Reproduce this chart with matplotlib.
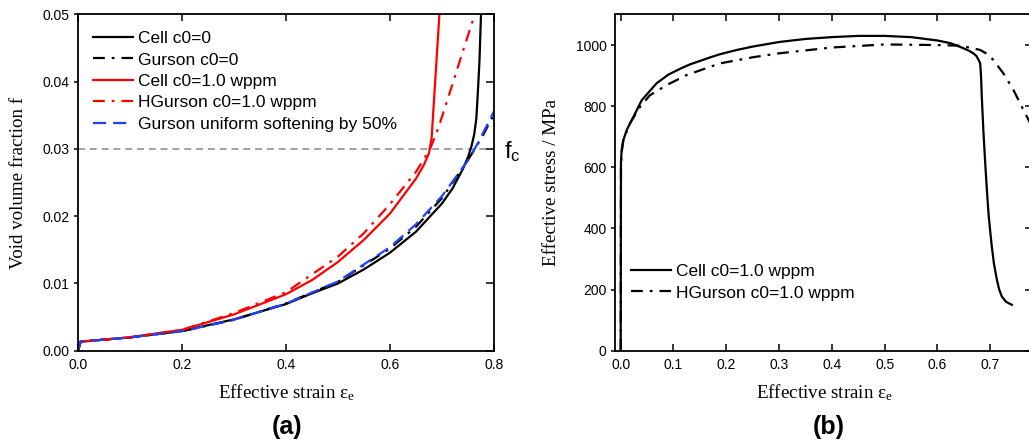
import matplotlib
matplotlib.use("Agg")
import matplotlib.pyplot as plt

plt.rcParams['font.family'] = ['Liberation Sans', 'DejaVu Sans']
plt.rcParams['mathtext.fontset'] = 'custom'
plt.rcParams['mathtext.rm'] = 'Liberation Serif'
plt.rcParams['mathtext.it'] = 'Liberation Serif:italic'
plt.rcParams['mathtext.sf'] = 'Liberation Sans'
plt.rcParams['lines.scale_dashes'] = False

# ---------------- data: panel (a) ----------------
cell0_x = [0, 0.005, 0.1, 0.2, 0.3, 0.4, 0.45, 0.5, 0.55, 0.6, 0.65, 0.7, 0.72, 0.74,
           0.75, 0.757, 0.762, 0.766, 0.769, 0.772, 0.775]
cell0_f = [0, 0.00134, 0.00198, 0.00293, 0.00466, 0.00694, 0.00853, 0.0100, 0.0121, 0.01458,
           0.0177, 0.0219, 0.0241, 0.0270, 0.0288, 0.0305, 0.0322, 0.0345, 0.0385, 0.0430, 0.05]

gurson0_x = [0, 0.005, 0.1, 0.2, 0.3, 0.4, 0.5, 0.6, 0.65, 0.7, 0.74, 0.76, 0.78, 0.8]
gurson0_f = [0, 0.00134, 0.00198, 0.0029, 0.0046, 0.00704, 0.01026, 0.0152, 0.01844, 0.0227,
             0.0272, 0.0296, 0.0322, 0.0352]

cell1_x = [0, 0.005, 0.1, 0.2, 0.3, 0.4, 0.45, 0.5, 0.55, 0.6, 0.65, 0.665, 0.675, 0.68, 0.695]
cell1_f = [0, 0.00134, 0.0020, 0.0031, 0.0054, 0.0084, 0.0105, 0.0132, 0.0165, 0.0204,
           0.0256, 0.0276, 0.0294, 0.0316, 0.05]

hgurson1_x = [0, 0.005, 0.1, 0.2, 0.3, 0.4, 0.5, 0.55, 0.6, 0.65, 0.677, 0.69, 0.70, 0.72, 0.74, 0.763]
hgurson1_f = [0, 0.00134, 0.0020, 0.0031, 0.0056, 0.0087, 0.0140, 0.0175, 0.0218, 0.0266,
              0.0300, 0.0325, 0.0348, 0.0396, 0.0445, 0.05]

soft_x = [0, 0.005, 0.1, 0.2, 0.3, 0.4, 0.5, 0.6, 0.65, 0.7, 0.75, 0.77, 0.8]
soft_f = [0, 0.00134, 0.00198, 0.0029, 0.0046, 0.0070, 0.0103, 0.0154, 0.0188, 0.0230,
          0.0283, 0.0310, 0.0356]

f_c = 0.03

# ---------------- data: panel (b) ----------------
cellb_x = [0, 0.0005, 0.002, 0.005, 0.0114, 0.024, 0.04, 0.068, 0.09, 0.112, 0.13, 0.15,
           0.17, 0.188, 0.22, 0.25, 0.3, 0.35, 0.4, 0.45, 0.5, 0.55, 0.6, 0.625, 0.643,
           0.658, 0.668, 0.674, 0.678, 0.681, 0.6825, 0.684, 0.687, 0.6905, 0.6935,
           0.6967, 0.700, 0.703, 0.707, 0.7127, 0.717, 0.722, 0.730, 0.741]
cellb_s = [0, 620, 660, 689, 722, 765, 820, 875, 903, 922, 936, 948, 960, 970, 984, 995,
           1010, 1020, 1026, 1030, 1030, 1026, 1015, 1006, 994, 983, 973, 964, 951, 940,
           900, 831, 720, 613, 530, 449, 390, 340, 285, 231, 200, 177, 160, 150]

hgb_x = [0, 0.0005, 0.002, 0.005, 0.0176, 0.0366, 0.0555, 0.087, 0.125, 0.188, 0.25, 0.3,
         0.4, 0.5, 0.6, 0.643, 0.66, 0.681, 0.693, 0.706, 0.725, 0.744, 0.766, 0.78]
hgb_s = [0, 600, 650, 690, 744, 798, 836, 869, 902, 940, 960, 973, 992, 1002, 1000, 998, 992,
         984, 972, 951, 907, 853, 777, 730]

xticks_a = [0.0, 0.2, 0.4, 0.6, 0.8]
yticks_a = [0.00, 0.01, 0.02, 0.03, 0.04, 0.05]
xticks_b = [0.0, 0.1, 0.2, 0.3, 0.4, 0.5, 0.6, 0.7]
yticks_b = [0, 200, 400, 600, 800, 1000]

W, H = 1029, 440
fig = plt.figure(figsize=(W / 100, H / 100), dpi=100)

def px_axes(l, r, t, b):
    return fig.add_axes([l / W, 1 - b / H, (r - l) / W, (b - t) / H])

dashdot = (0, (8.5, 5, 2, 5))
dashed = (0, (9.5, 5))
blue = '#1f40ff'
lw = 1.6
label_font = dict(family=['Liberation Serif', 'DejaVu Serif'], size=13.7)

def style(ax, xt, yt, xfmt, yfmt):
    for s in ax.spines.values():
        s.set_linewidth(1.3)
    ax.set_xticks(xt)
    ax.set_yticks(yt)
    ax.set_xticklabels([xfmt.format(v) for v in xt])
    ax.set_yticklabels([yfmt.format(v) for v in yt])
    ax.tick_params(axis='x', which='both', direction='in', top=True, bottom=True,
                   length=5, width=1.1, labelsize=10, pad=5)
    ax.tick_params(axis='y', which='both', direction='out', left=True, right=False,
                   length=3, width=1.1, labelsize=10, pad=3)
    tw = ax.twinx()
    tw.set_ylim(ax.get_ylim())
    tw.set_yticks(yt)
    tw.tick_params(axis='y', direction='in', length=6, width=1.1, labelright=False)
    for s in tw.spines.values():
        s.set_visible(False)
    return tw

leg_kw = dict(loc='upper left', frameon=False, fontsize=12.5, handlelength=2.3,
              handletextpad=0.3, labelspacing=0.36, borderpad=0, borderaxespad=0)

# ---------- panel (a) ----------
axa = px_axes(78, 494, 14.5, 350.7)
axa.set_xlim(0, 0.8)
axa.set_ylim(0, 0.05)
axa.plot(cell0_x, cell0_f, color='black', lw=lw, label='Cell c0=0')
axa.plot(gurson0_x, gurson0_f, color='black', lw=lw, ls=dashdot, label='Gurson c0=0')
axa.plot(cell1_x, cell1_f, color='red', lw=lw, label='Cell c0=1.0 wppm')
axa.plot(hgurson1_x, hgurson1_f, color='red', lw=lw, ls=dashdot, label='HGurson c0=1.0 wppm')
axa.plot(soft_x, soft_f, color=blue, lw=lw, ls=dashed, label='Gurson uniform softening by 50%')
axa.axhline(f_c, color='#888888', lw=1.1, ls=(0, (5, 3.5)), zorder=0)
style(axa, xticks_a, yticks_a, '{:.1f}', '{:.2f}')
axa.text(1.025, (350.7 - 158) / 336.2, r'$\mathsf{f_c}$', transform=axa.transAxes,
         fontsize=17, ha='left', va='baseline')
axa.set_xlabel(r'Effective strain ε$_\mathrm{e}$', **label_font)
axa.set_ylabel('Void volume fraction f', **label_font)
axa.xaxis.label.set_va('center')
axa.yaxis.label.set_va('center')
axa.xaxis.set_label_coords(0.5, (350.7 - 393) / 336.2)
axa.yaxis.set_label_coords((18.3 - 78) / 416, 0.5)
axa.legend(bbox_to_anchor=((93 - 78) / 416, (350.7 - 31) / 336.2), **leg_kw)

# ---------- panel (b) ----------
axb = px_axes(615, 1033, 14.5, 350.7)
axb.set_xlim(-0.0108, 0.781)
axb.set_ylim(0, 1100)
axb.plot(cellb_x, cellb_s, color='black', lw=lw, label='Cell c0=1.0 wppm')
axb.plot(hgb_x, hgb_s, color='black', lw=lw, ls=dashdot, label='HGurson c0=1.0 wppm')
style(axb, xticks_b, yticks_b, '{:.1f}', '{:d}')
axb.set_xlabel(r'Effective strain ε$_\mathrm{e}$', **label_font)
axb.set_ylabel('Effective stress / MPa', **label_font)
axb.xaxis.label.set_va('center')
axb.yaxis.label.set_va('center')
axb.xaxis.set_label_coords((824 - 615) / 418, (350.7 - 393) / 336.2)
axb.yaxis.set_label_coords((551.7 - 615) / 418, 0.5)
axb.legend(bbox_to_anchor=((631 - 615) / 418, (350.7 - 264) / 336.2), **leg_kw)

fig.text(287.5 / W, 1 - 427 / H, '(a)', ha='center', va='center', fontsize=18, fontweight='bold')
fig.text(829 / W, 1 - 427 / H, '(b)', ha='center', va='center', fontsize=18, fontweight='bold')

fig.savefig('out.png', dpi=100)
